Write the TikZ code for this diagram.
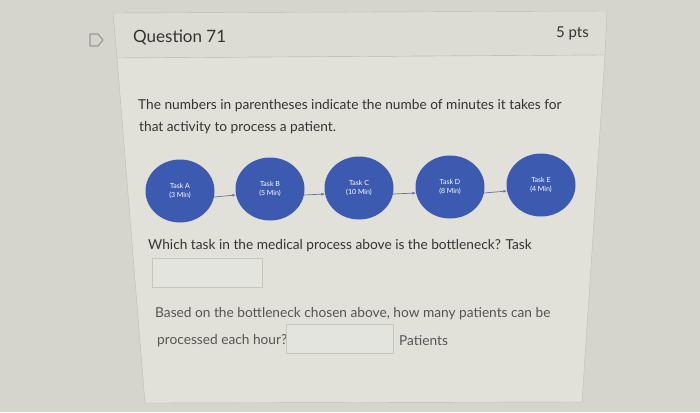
\documentclass[tikz,border=0pt]{standalone}
\usepackage{fontspec}
\setmainfont{Lato}
\usetikzlibrary{shapes.geometric,arrows.meta}
\definecolor{wallgray}{RGB}{214,213,205}
\definecolor{headfill}{RGB}{220,219,212}
\definecolor{panelfill}{RGB}{225,224,217}
\definecolor{panelline}{RGB}{188,188,182}
\definecolor{taskblue}{RGB}{60,91,176}
\definecolor{flowgray}{RGB}{105,115,150}
\definecolor{boxfill}{RGB}{228,228,222}
\definecolor{boxline}{RGB}{198,198,192}
\definecolor{inkgray}{RGB}{52,52,52}
\definecolor{softgray}{RGB}{85,85,85}
\begin{document}
\begin{tikzpicture}[x=1pt,y=-1pt,
    task/.style={ellipse,fill=taskblue,text=white,minimum width=69pt,minimum height=63pt,
      inner sep=0pt,align=center,font=\fontsize{7}{9}\selectfont},
    flow/.style={-{Latex[length=3.5pt,width=3pt]},draw=flowgray,line width=0.7pt},
    answer/.style={draw=boxline,fill=boxfill,minimum height=29pt,inner sep=0pt},
    prompt/.style={anchor=west,inner sep=0pt,text=inkgray,font=\fontsize{13.7}{16}\selectfont}]

    % page and panel
    \fill[wallgray] (0,0) rectangle (700,412);
    \useasboundingbox (0,0) rectangle (700,412);
    \filldraw[fill=headfill,draw=panelline] (113,13) -- (607,11) -- (605,55) -- (117,58) -- cycle;
    \filldraw[fill=panelfill,draw=panelline] (117,58) -- (605,55) -- (582,402) -- (145,403) -- cycle;
    \draw[line width=1.2pt,draw=gray!80,line join=round] (90,34) -- (98,34) -- (103,40) -- (98,46) -- (90,46) -- cycle;

    % header
    \node[anchor=west,inner sep=0pt,text=inkgray,font=\fontsize{17}{20}\selectfont] (title) at (133,38) {Question 71};
    \node[anchor=east,inner sep=0pt,text=inkgray,font=\fontsize{15}{18}\selectfont] (points) at (589,33) {5 pts};

    % question text
    \node[prompt] (intro) at (138,106) {The numbers in parentheses indicate the numbe of minutes it takes for};
    \node[prompt] (intro2) at (139,128) {that activity to process a patient.};

    % process
    \node[task] (a) at (180,191) {Task A\\(3 Min)};
    \node[task] (b) at (270,189) {Task B\\(5 Min)};
    \node[task] (c) at (359,188) {Task C\\(10 Min)};
    \node[task] (d) at (450,187) {Task D\\(8 Min)};
    \node[task] (e) at (541,185) {Task E\\(4 Min)};

    \draw[flow] (a.-10) -- (b.190);
    \draw[flow] (b.-10) -- (c.190);
    \draw[flow] (c.-10) -- (d.190);
    \draw[flow] (d.-10) -- (e.190);

    % answers
    \node[prompt] (ask1) at (148,246) {Which task in the medical process above is the bottleneck? Task};
    \node[answer,minimum width=110pt] (box1) at (207,273) {};
    \node[prompt,text=softgray] (ask2) at (155,314) {Based on the bottleneck chosen above, how many patients can be};
    \node[prompt,text=softgray] (ask3) at (157,341) {processed each hour?};
    \node[answer,minimum width=107pt] (box2) at (340,339) {};
    \node[prompt,text=softgray] (unit) at (399,341) {Patients};

\end{tikzpicture}
\end{document}
